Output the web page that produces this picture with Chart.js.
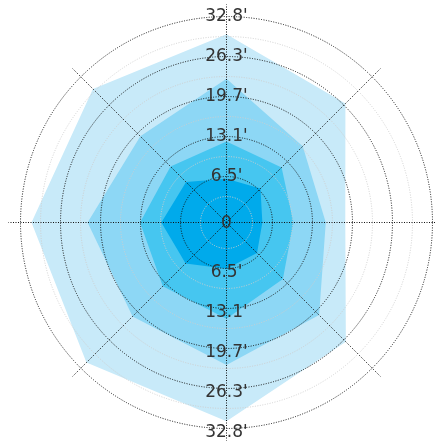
<!DOCTYPE html>
<html>
<head>
<meta charset="utf-8">
<script src="https://cdn.jsdelivr.net/npm/chart.js@4.4.1/dist/chart.umd.min.js"></script>
<style>
  html, body { margin: 0; padding: 0; background: #fff; overflow: hidden; }
  #wrap { position: relative; width: 436px; height: 442px; }
</style>
</head>
<body>
<div id="wrap"><canvas id="rose"></canvas></div>
<script>
const directions = ["N", "NE", "E", "SE", "S", "SW", "W", "NW"];

// outer edge of each band per direction, in feet (inner band first)
const band1 = [6.2, 6.9, 4.9, 6.1, 6.6, 8.5, 9.7, 8.4];
const band2 = [12.3, 11.8, 10.0, 12.1, 14.8, 13.8, 13.2, 12.0];
const band3 = [22.6, 16.7, 15.3, 20.5, 22.4, 20.8, 21.8, 19.0];
const band4 = [29.9, 26.6, 18.5, 26.7, 31.6, 31.5, 31.0, 30.0];
const bandColors = ["#00aaeb", "#46c6f0", "#8dd7f5", "#c8eaf9"];

const majorTicks = [0, 6.56, 13.12, 19.68, 26.24, 32.8];
const minorTicks = [3.28, 9.84, 16.4, 22.96, 29.52];
const tickLabels = ["0", "6.5'", "13.1'", "19.7'", "26.3'", "32.8'"];
const rMin = -0.98;
const rMax = 34.77;

// tick labels go both up and down the vertical axis
const tickLabelPlugin = {
  id: "tickLabels",
  afterDraw(chart) {
    const r = chart.scales.r;
    const ctx = chart.ctx;
    ctx.save();
    ctx.font = '17px "DejaVu Sans"';
    ctx.fillStyle = "#333";
    ctx.textAlign = "center";
    ctx.textBaseline = "middle";
    majorTicks.forEach((v, i) => {
      if (v === 0) {
        ctx.fillText(tickLabels[i], r.xCenter, r.yCenter + 1.5);
        return;
      }
      const d = r.getDistanceFromCenterForValue(v) + 2;
      ctx.fillText(tickLabels[i], r.xCenter, r.yCenter - d + 2.5);
      ctx.fillText(tickLabels[i], r.xCenter, r.yCenter + d + 2.5);
    });
    ctx.restore();
  },
};

const ctx = document.getElementById("rose").getContext("2d");
new Chart(ctx, {
  type: "radar",
  data: {
    labels: directions,
    datasets: [band1, band2, band3, band4].map((data, i) => ({
      data: data,
      fill: "start",
      backgroundColor: bandColors[i],
      borderColor: "rgba(0,0,0,0)",
      borderWidth: 0,
      pointRadius: 0,
    })),
  },
  options: {
    responsive: true,
    maintainAspectRatio: false,
    animation: false,
    events: [],
    layout: { padding: 0 },
    scales: {
      r: {
        min: rMin,
        max: rMax,
        afterBuildTicks: (s) => {
          s.ticks = majorTicks
            .filter((v) => v > 0)
            .concat(minorTicks)
            .sort((a, b) => a - b)
            .map((v) => ({ value: v }));
        },
        afterFit: (s) => {
          s.xCenter = 226.5;
          s.yCenter = 222.5;
          s.drawingArea = 218;
        },
        ticks: { display: false },
        pointLabels: { display: false },
        grid: {
          circular: true,
          z: 1,
          lineWidth: 1,
          color: (c) =>
            c.tick && minorTicks.includes(c.tick.value) ? "#cfcfcf" : "#111",
        },
        border: { dash: [1, 1.5] },
        angleLines: { color: "#111", lineWidth: 1, borderDash: [1, 1.5] },
      },
    },
    plugins: {
      legend: { display: false },
      tooltip: { enabled: false },
    },
  },
  plugins: [tickLabelPlugin],
});
</script>
</body>
</html>
